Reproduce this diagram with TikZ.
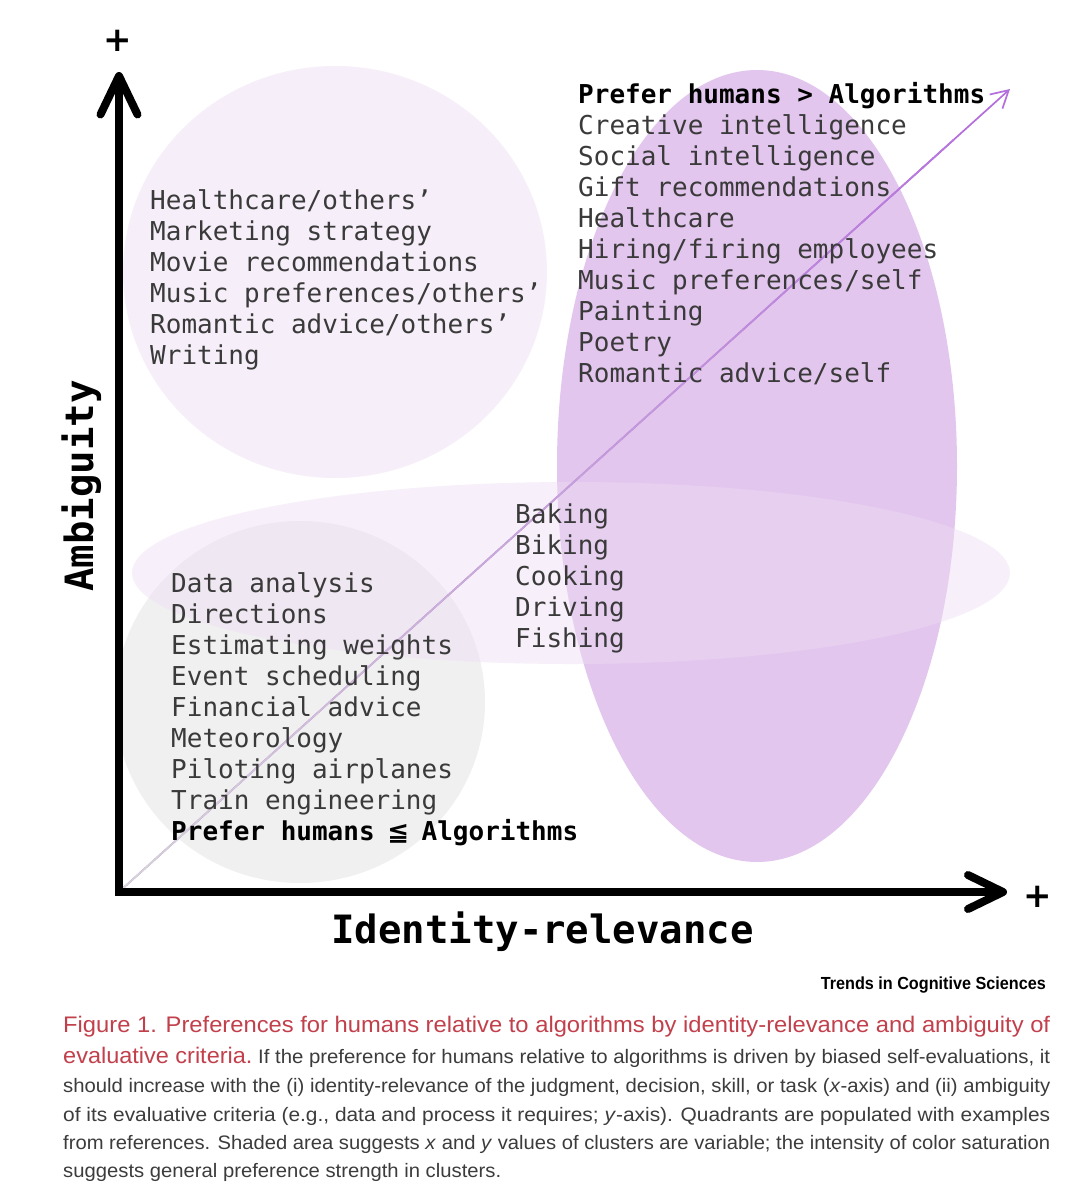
\documentclass[tikz,border=0pt]{standalone}
\usepackage{fontspec}
\usepackage{graphicx}
\usetikzlibrary{arrows.meta,calc}
\newfontfamily\monof{DejaVu Sans Mono}
\newfontfamily\capf{Liberation Sans}
\newfontfamily\symf{DejaVu Sans}
\definecolor{itemc}{HTML}{3A3A3A}
\definecolor{tlc}{HTML}{F6EEF8}
\definecolor{grc}{HTML}{F0F0F0}
\definecolor{purc}{HTML}{E3C6EE}
\definecolor{hzc}{HTML}{EEDCF3}
\definecolor{linec}{HTML}{B46EDC}
\definecolor{linegc}{HTML}{D6D6D6}
\definecolor{capred}{HTML}{C2404C}
\definecolor{capgray}{HTML}{3C3C3C}
\tikzset{
  item/.style={anchor=base west, inner sep=0pt, text=itemc, font=\monof\fontsize{26}{31}\selectfont},
  head/.style={anchor=base west, inner sep=0pt, text=black, font=\monof\bfseries\fontsize{26}{31}\selectfont},
  axisline/.style={line width=8pt, black, line join=miter},
  chev/.style={line width=8pt, black, line cap=round, line join=round},
  axlabel/.style={anchor=base, inner sep=0pt, font=\monof\bfseries\fontsize{39}{44}\selectfont},
  plussign/.style={inner sep=0pt, font=\symf\bfseries\fontsize{34}{34}\selectfont},
  capline/.style={anchor=base west, inner sep=0pt},
  diag/.style={line width=1.7pt},
}
\begin{document}
\begin{tikzpicture}[x=1pt,y=-1pt]
\useasboundingbox (0,0) rectangle (1077,1200);
\fill[white] (0,0) rectangle (1077,1200);
% clusters
\fill[tlc] (335,272) ellipse [x radius=212pt, y radius=206pt];
\fill[grc] (300,702) ellipse [x radius=185pt, y radius=181pt];
\fill[purc] (757,466) ellipse [x radius=200pt, y radius=396pt];
\fill[hzc, fill opacity=0.43] (571,573) ellipse [x radius=439pt, y radius=91pt];
% diagonal gradient arrow
\coordinate (dstart) at (121,890);
\coordinate (dend) at (1010,89);
\draw[diag, linec, -{Straight Barb[length=17pt,width=19pt]}] (dstart) -- (dend);
\foreach \k in {0,...,27}{
  \pgfmathsetmacro\pa{\k/30}
  \pgfmathsetmacro\pb{(\k+1)/30+0.004}
  \pgfmathtruncatemacro\pc{100*(\k+0.5)/30}
  \draw[diag, linec!\pc!linegc] ($(dstart)!\pa!(dend)$) -- ($(dstart)!\pb!(dend)$);
}
% axes
\coordinate (orig) at (119,892);
\coordinate (ytip) at (119,76);
\coordinate (xtip) at (1003,892);
\coordinate (ya) at (100.5,114.5);
\coordinate (yb) at (137.5,114.5);
\coordinate (xa) at (968,875);
\coordinate (xb) at (968,909);
\draw[axisline] (ytip) -- (orig) -- (xtip);
\draw[chev] (ya) -- (ytip) -- (yb);
\draw[chev] (xa) -- (xtip) -- (xb);
\node[plussign] (plusy) at (118,41) {+};
\node[plussign] (plusx) at (1038,897) {+};
\node[axlabel] (xlab) at (542.5,943) {Identity-relevance};
\node[axlabel, rotate=90] (ylab) at (93,486) {Ambiguity};
% top-right cluster
\node[head] (trh) at (578,103) {Prefer humans > Algorithms};
\foreach \t [count=\i from 1] in {Creative intelligence,%
Social intelligence,%
Gift recommendations,%
Healthcare,%
Hiring/firing employees,%
Music preferences/self,%
Painting,%
Poetry,%
Romantic advice/self}
  \node[item] (tr\i) at (578,103+31*\i) {\t};
% top-left cluster
\foreach \t [count=\i from 0] in {Healthcare/others’,%
Marketing strategy,%
Movie recommendations,%
Music preferences/others’,%
Romantic advice/others’,%
Writing}
  \node[item] (tl\i) at (150,209+31*\i) {\t};
% middle cluster
\foreach \t [count=\i from 0] in {Baking,%
Biking,%
Cooking,%
Driving,%
Fishing}
  \node[item] (md\i) at (515,523+31*\i) {\t};
% bottom-left cluster
\foreach \t [count=\i from 0] in {Data analysis,%
Directions,%
Estimating weights,%
Event scheduling,%
Financial advice,%
Meteorology,%
Piloting airplanes,%
Train engineering}
  \node[item] (bl\i) at (171,592+31*\i) {\t};
\node[head] (blh) at (171,840) {Prefer humans \makebox[15.65pt]{\symf\bfseries ≦} Algorithms};
% source
\node[anchor=base east, inner sep=0pt] (trends) at (1046,989)
  {\resizebox{225pt}{\height}{\capf\bfseries\fontsize{17.5}{20}\selectfont Trends in Cognitive Sciences}};
% caption
\node[capline] (cap1) at (63,1032) {\resizebox{987pt}{\height}{\capf\fontsize{22.5}{27}\selectfont\color{capred}Figure 1. Preferences for humans relative to algorithms by identity-relevance and ambiguity of}};
\node[capline] (cap2) at (63,1063) {\resizebox{987pt}{\height}{\capf\fontsize{22.5}{27}\selectfont\color{capred}evaluative criteria.\fontsize{19.5}{24}\selectfont\ \color{capgray}If the preference for humans relative to algorithms is driven by biased self-evaluations, it}};
\node[capline] (cap3) at (63,1092) {\resizebox{987pt}{\height}{\capf\fontsize{19.5}{24}\selectfont\color{capgray}should increase with the (i) identity-relevance of the judgment, decision, skill, or task (\textit{x}-axis) and (ii) ambiguity}};
\node[capline] (cap4) at (63,1121) {\resizebox{987pt}{\height}{\capf\fontsize{19.5}{24}\selectfont\color{capgray}of its evaluative criteria (e.g., data and process it requires; \textit{y}-axis). Quadrants are populated with examples}};
\node[capline] (cap5) at (63,1149) {\resizebox{987pt}{\height}{\capf\fontsize{19.5}{24}\selectfont\color{capgray}from references. Shaded area suggests \textit{x} and \textit{y} values of clusters are variable; the intensity of color saturation}};
\node[capline] (cap6) at (63,1177) {\resizebox{438pt}{\height}{\capf\fontsize{19.5}{24}\selectfont\color{capgray}suggests general preference strength in clusters.}};
\end{tikzpicture}
\end{document}
